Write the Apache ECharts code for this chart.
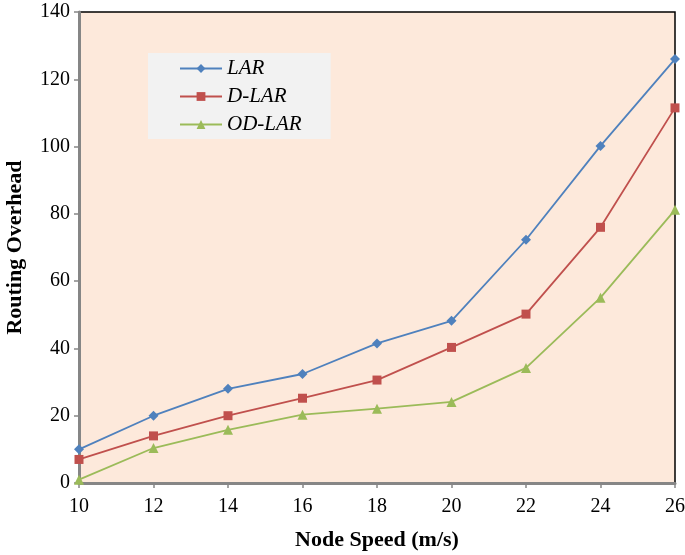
<!DOCTYPE html>
<html><head><meta charset="utf-8">
<script src="https://cdn.jsdelivr.net/npm/echarts@6/dist/echarts.min.js"></script>
<style>html,body{margin:0;padding:0;background:#fff}#c{width:685px;height:555px}</style>
</head><body><div id="c"></div>
<script>
const speeds = [10, 12, 14, 16, 18, 20, 22, 24, 26];
const lar = [10, 20, 28, 32.4, 41.5, 48.2, 72.3, 100.2, 126];
const dlar = [7, 14, 20, 25.2, 30.6, 40.3, 50.2, 76, 111.5];
const odlar = [1, 10.4, 15.8, 20.3, 22.1, 24.1, 34.2, 55.1, 81.2];
const seriesNames = ['LAR', 'D-LAR', 'OD-LAR'];
const font = 'Liberation Serif';
const chart = echarts.init(document.getElementById('c'));
function mk(name, vals, color, symbol, size) {
  return {
    name, type: 'line', data: speeds.map((s, i) => [s, vals[i]]),
    symbol, symbolSize: size, lineStyle: {color, width: 1.8}, itemStyle: {color},
    animation: false
  };
}
chart.setOption({
  animation: false,
  grid: {left: 79, right: 10, top: 12, bottom: 72, show: true, containLabel: false,
    outerBoundsMode: 'none',
    backgroundColor: '#fde9db', borderColor: '#000', borderWidth: 1.5},
  legend: {
    left: 148, top: 53, orient: 'vertical', padding: [5, 29, 4, 31],
    backgroundColor: '#f2f2f2', itemWidth: 42, itemHeight: 11, itemGap: 7,
    textStyle: {fontFamily: font, fontStyle: 'italic', fontSize: 21, color: '#000'},
    data: seriesNames
  },
  xAxis: {
    type: 'value', min: 10, max: 26, interval: 2,
    name: 'Node Speed (m/s)', nameLocation: 'middle', nameGap: 46,
    nameTextStyle: {fontFamily: font, fontWeight: 'bold', fontSize: 22, color: '#000'},
    axisLine: {lineStyle: {color: '#868686', width: 3}},
    axisTick: {show: true, length: 5, lineStyle: {color: '#868686', width: 1.5}},
    axisLabel: {fontFamily: font, fontSize: 20, color: '#000', margin: 14},
    splitLine: {show: false}
  },
  yAxis: {
    type: 'value', min: 0, max: 140, interval: 20,
    name: 'Routing Overhead', nameLocation: 'middle', nameGap: 53,
    nameTextStyle: {fontFamily: font, fontWeight: 'bold', fontSize: 22, color: '#000'},
    axisLine: {lineStyle: {color: '#868686', width: 3}},
    axisTick: {show: true, length: 5, lineStyle: {color: '#868686', width: 1.5}},
    axisLabel: {fontFamily: font, fontSize: 20, color: '#000', margin: 9},
    splitLine: {show: false}
  },
  series: [
    mk(seriesNames[0], lar, '#4f81bd', 'diamond', 10),
    mk(seriesNames[1], dlar, '#c0504d', 'rect', 9),
    mk(seriesNames[2], odlar, '#9bbb59', 'triangle', 10)
  ]
});
</script></body></html>
